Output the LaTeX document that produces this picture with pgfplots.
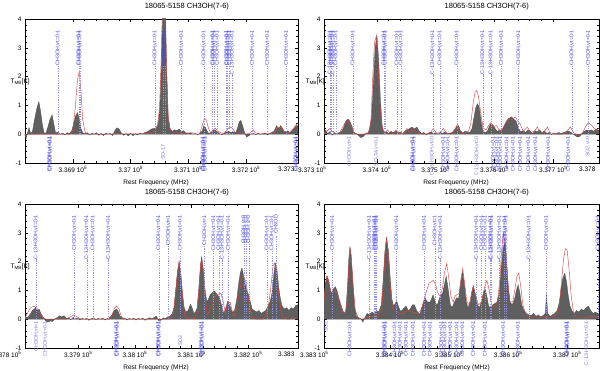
\documentclass[border=0pt]{standalone}
\usepackage{fontspec}
\setmainfont{Liberation Sans}
\usepackage{pgfplots}
\pgfplotsset{compat=1.18}
\usepackage{pgfplotstable}

\definecolor{lblue}{RGB}{70,70,220}
\definecolor{lpale}{RGB}{125,125,220}
\definecolor{lline}{RGB}{150,150,228}
\definecolor{specgray}{RGB}{95,95,95}
\definecolor{modred}{RGB}{215,70,70}
\newcommand\lblfont{\fontsize{5.3}{6}\selectfont}

\pgfplotsset{
  spec/.style={
    scale only axis, height=144pt, anchor=south west,
    ymin=-1, ymax=4, ytick={-1,0,1,2,3,4},
    scaled x ticks=false,
    tick align=inside, minor x tick num=4, minor y tick num=4,
    major tick length=3.5pt, minor tick length=1.8pt,
    every tick/.style={black, line width=0.35pt},
    axis line style={line width=0.5pt},
    ticklabel style={font=\fontsize{6.5}{7.5}\selectfont},
    /pgf/number format/assume math mode=true,
  },
  obs/.style={fill=specgray, draw=black!70, line width=0.3pt},
  mod/.style={draw=modred, line width=0.45pt, no markers},
  lin/.style={ycomb, color=lline, draw=lline, dash pattern=on 1.2pt off 1.2pt, line width=0.25pt, no markers},
  lab/.style={only marks, mark=*, mark size=0pt, mark options={draw=none, fill=none},
    point meta=explicit symbolic, nodes near coords,
    nodes near coords style={rotate=90, anchor=east, inner sep=0pt, font=\lblfont, text=#1}},
  lab/.default=lblue,
}
\tikzset{
  ttl/.style={anchor=base, yshift=10pt, font=\fontsize{7.5}{9}\selectfont},
  xl/.style={anchor=center, yshift=-20pt, font=\fontsize{6.5}{7.5}\selectfont},
  yl/.style={anchor=west, font=\fontsize{6.5}{8}\selectfont},
  edge/.style={anchor=north east, font=\fontsize{6.5}{7.5}\selectfont},
}

% ---------- line identifications ----------
\pgfplotstableread{
x h l
336874 2.4 CH3OH,vt=0-1
336910 2.4 CH3OH,vt=0-1
336912 2.4 CH3OH,vt=0-1
337042 2.4 CH3OH,vt=0-1
337057 2.4 CH3OH,vt=0-1
337059 2.4 CH3OH,vt=0-1
337088 2.4 CH3OH,vt=0-1
337127 2.4 CH3OH,vt=0-1
337142 2.4 CH3OH,vt=0-1
337144 2.4 CH3OH,vt=0-1
337150 2.4 CH3OH,vt=0-1
337166 2.4 CH3OH,vt=0-1
337168 2.4 CH3OH,vt=0-1
337171 2.4 CH3OH,vt=0-1
337176 2.1 C-13-H3OH,vt=0-1
337211 2.4 CH3OH,vt=0-1
337237 2.4 CH3OH,vt=0-1
337270 2.4 CH3OH,vt=0-1
}\topA
\pgfplotstableread{
x y l
336859 -0.06 CH3OH,vt=0-1
336861 -0.06 CH3OH,vt=0-1
337125 -0.06 CH3OH,vt=0-1
337127 -0.06 CH3OH,vt=0-1
337129 -0.06 CH3OH,vt=0-1
337286 -0.06 CH3OH,vt=0-1
337288 -0.06 CH3OH,vt=0-1
}\botA
\pgfplotstableread{
x y l
337056 -0.35 SO-17
}\palA

\pgfplotstableread{
x h l
337320 2.1 C-13-H3OH,vt=0-1
337322 2.4 CH3OH,vt=0-1
337325 2.1 C-13-H3OH,vt=0-1
337330 2.4 CH3OH,vt=0-1
337359 2.4 CH3OH,vt=0-1
337412 2.4 CH3OH,vt=0-1
337414 2.4 CH3OH,vt=0-1
337434 2.4 CH3OH,vt=0-1
337441 2.4 CH3OH,vt=0-1
337495 2.1 C-13-H3OH,vt=0-1
337507 2.4 CH3OH,vt=0-1
337536 2.4 CH3OH,vt=0-1
337580 2.1 C-13-H3OH,vt=0-1
337594 2.1 C-13-H3OH,vt=0-1
337612 2.4 CH3OH,vt=0-1
337641 2.4 CH3OH,vt=0-1
337732 2.4 CH3OH,vt=0-1
337760 2.4 CH3OH,vt=0-1
}\topB
\pgfplotstableread{
x y l
337461 -0.06 CH3OH,vt=0-1
337463 -0.06 CH3OH,vt=0-1
337513 -0.06 CH3OH,vt=0-1
337521 -0.06 CH3OH,vt=0-1
337536 -0.06 CH3OH,vt=0-1
337598 -0.06 CH3OH,vt=0-1
337604 -0.06 CH3OH,vt=0-1
337610 -0.06 CH3OH,vt=0-1
337621 -0.06 CH3OH,vt=0-1
337632 -0.06 CH3OH,vt=0-1
337644 -0.06 CH3OH,vt=0-1
337658 -0.06 CH3OH,vt=0-1
337670 -0.06 CH3OH,vt=0-1
337692 -0.06 CH3OH,vt=0-1
337726 -0.06 CH3OH,vt=0-1
}\botB
\pgfplotstableread{
x y l
337353 -0.06 CH3OH,vt=1
337399 -0.06 SO-34,v=0-1
337494 -0.06 C-13-H3OH,vt=0
337570 -0.06 C-13-H3OH,vt=0
337759 -0.06 SO2,v=0
}\palB

\pgfplotstableread{
x h l
337825 2.1 C-13-H3OH,vt=0-1
337893 2.4 CH3OH,vt=0-1
337915 2.1 C-13-H3OH,vt=0-1
337926 2.4 CH3OH,vt=0-1
337953 2.1 C-13-H3OH,vt=0-1
338042 2.4 CH3OH,vt=0-1
338059 2.6 CH3OH,vt=1
338080 2.4 CH3OH,vt=0-1
338123 2.6 CH3OH,vt=1
338139 2.4 CH3OH,vt=0-1
338148 2.4 CH3OH,vt=0-1
338154 2.1 C-13-H3OH,vt=0-1
338165 2.4 CH3OH,vt=0-1
338192 2.7 CH3OH,v=0
338196 2.7 CH3OH,v=0
338201 2.7 CH3OH,v=0
338233 2.4 CH3OH,vt=0-1
338242 2.4 CH3OH,vt=0-1
338249 2.9 CH3OD
}\topC
\pgfplotstableread{
x y l
337967 -0.06 CH3OH,vt=0-1
337969 -0.06 CH3OH,vt=0-1
338041 -0.06 CH3OH,vt=0-1
338043 -0.06 CH3OH,vt=0-1
338117 -0.06 CH3OH,vt=0-1
338119 -0.06 CH3OH,vt=0-1
}\botC
\pgfplotstableread{
x y l
337826 -0.06 CH3OH,vt=1
337842 -0.06 CH3OH,vt=0-1
338080 -0.55 SO2
}\palC

\pgfplotstableread{
x h l
338302 2.4 CH3OH,vt=0-1
338365 2.1 C-13-H3OH,vt=0-1
338373 2.4 CH3OH,vt=0-1
338375 2.4 CH3OH,vt=0-1
338377 2.4 CH3OH,vt=0-1
338411 2.4 CH3OH,vt=0-1
338458 2.4 CH3OH,vt=0-1
338476 2.6 CH3OH,vt=1
338485 2.1 C-13-H3OH,vt=0-1
338546 2.1 C-13-H3OH,vt=0-1
338555 2.4 CH3OH,vt=0-1
338561 2.4 CH3OH,vt=0-1
338570 2.1 C-13-H3OH,vt=0-1
338572 2.1 C-13-H3OH,vt=0-1
338585 2.1 C-13-H3OH,vt=0-1
338594 2.4 CH3OH,vt=0-1
338596 2.4 CH3OH,vt=0-1
338635 2.1 C-13-H3OH,vt=0-1
338665 2.4 CH3OH,vt=0-1
338752 2.4 CH3OH,vt=0-1
}\topD
\pgfplotstableread{
x y l
338332 -0.06 CH3OH,vt=0-1
338390 -0.06 CH3OH,vt=0-1
338392 -0.06 CH3OH,vt=0-1
338408 -0.06 CH3OH,vt=0-1
338417 -0.06 CH3OH,vt=0-1
338427 -0.06 CH3OH,vt=0-1
338439 -0.06 CH3OH,vt=0-1
338458 -0.06 CH3OH,vt=0-1
338468 -0.06 CH3OH,vt=0-1
338487 -0.06 CH3OH,vt=0-1
338493 -0.06 CH3OH,vt=0-1
338502 -0.06 CH3OH,vt=0-1
338513 -0.06 CH3OH,vt=0-1
338523 -0.06 CH3OH,vt=0-1
338541 -0.06 CH3OH,vt=0-1
338561 -0.06 CH3OH,vt=0-1
338592 -0.06 CH3OH,vt=0-1
338617 -0.06 CH3OH,vt=0-1
338699 -0.06 CH3OH,vt=0-1
338701 -0.06 CH3OH,vt=0-1
}\botD
\pgfplotstableread{
x y l
338291 -0.06 SO2
338733 -0.06 C-13-H3OH,vt=0-1
}\palD

\begin{document}
\begin{tikzpicture}
\useasboundingbox (0,0) rectangle (600pt,-371pt);

% ================= panel 1 =================
\begin{axis}[spec, width=273pt, at={(25pt,-163pt)}, xmin=336817, xmax=337290,
  xtick={336900,337000,337100,337200},
  xticklabels={3.369 10\textsuperscript{5},3.37 10\textsuperscript{5},3.371 10\textsuperscript{5},3.372 10\textsuperscript{5}},
  after end axis/.code={
    \node[ttl] at (rel axis cs:0.593,1) {18065-5158 CH3OH(7-6)};
    \node[xl] at (rel axis cs:0.48,0) {Rest Frequency (MHz)};
    \node[yl, xshift=-18pt] at (rel axis cs:0,0.5625) {T\textsubscript{MB}[K]};
    \node[edge] at (rel axis cs:1,0) {3.373};
  }]
\addplot[obs] table {
336817 -0.05
336819 -0.15
336821 0.02
336824 0.23
336827 0.02
336830 0.1
336833 0.45
336837 0.85
336841 1.13
336844 0.8
336847 0.35
336850 0.05
336853 0.03
336856 0.2
336860 0.5
336864 0.67
336867 0.35
336870 0.05
336874 0.07
336878 0.0
336882 0.04
336886 -0.02
336890 0.05
336894 0.03
336898 0.12
336901 0.35
336905 0.65
336908 0.75
336911 0.55
336914 0.2
336917 0.05
336921 0.02
336925 0.05
336929 -0.03
336933 0.04
336937 0.0
336941 0.05
336945 -0.04
336949 0.03
336953 -0.05
336957 0.04
336961 0.0
336965 0.03
336969 -0.05
336972 0.1
336976 0.22
336980 0.18
336984 0.04
336988 -0.04
336992 0.02
336996 -0.06
337000 0.03
337004 -0.05
337008 0.02
337012 -0.03
337016 0.04
337020 0.0
337024 0.05
337028 0.08
337032 0.12
337036 0.18
337040 0.2
337044 0.22
337048 0.35
337051 1.0
337054 2.8
337057 5.5
337060 5.0
337062 2.5
337065 0.6
337068 0.2
337072 0.1
337076 0.15
337080 0.12
337084 0.18
337088 0.1
337092 0.12
337096 0.04
337100 0.02
337104 0.05
337108 0.0
337112 0.03
337116 -0.02
337120 0.03
337124 0.12
337127 0.3
337130 0.22
337134 0.05
337138 0.03
337142 0.12
337146 0.15
337150 0.08
337154 0.02
337158 -0.02
337162 0.03
337166 0.08
337170 0.1
337174 0.06
337178 0.08
337182 0.05
337185 0.2
337188 0.42
337191 0.48
337194 0.3
337197 0.08
337201 -0.1
337205 -0.05
337209 0.02
337213 0.03
337217 -0.02
337221 0.03
337225 0.0
337229 0.02
337233 0.04
337237 -0.03
337241 0.02
337245 0.06
337249 0.12
337253 0.3
337256 0.18
337260 0.3
337264 0.15
337268 0.08
337272 0.12
337276 0.05
337280 0.12
337284 0.22
337287 0.3
337290 0.3
} \closedcycle;
\addplot[mod] table {
336817 0.0
336895 0.0
336900 0.15
336904 0.9
336908 1.9
336911 2.18
336914 1.5
336917 0.5
336921 0.08
336926 0.0
337036 0.02
337046 0.25
337050 0.9
337053 2.6
337056 5.2
337059 5.0
337062 2.4
337065 0.7
337068 0.2
337074 0.05
337120 0.04
337124 0.3
337128 0.55
337131 0.5
337135 0.2
337139 0.04
337143 0.15
337147 0.2
337151 0.1
337160 0.02
337166 0.12
337170 0.22
337174 0.25
337178 0.15
337182 0.04
337192 0.05
337200 0.0
337208 0.05
337212 0.15
337216 0.05
337225 0.0
337250 0.05
337254 0.25
337258 0.2
337262 0.25
337266 0.1
337274 0.05
337282 0.2
337290 0.4
};
\addplot[lin] table[x=x, y=h] {\topA};
\addplot[lab] table[x=x, y expr=3.62, meta=l] {\topA};
\addplot[lab] table[x=x, y=y, meta=l] {\botA};
\addplot[lab=lpale] table[x=x, y=y, meta=l] {\palA};
\end{axis}

% ================= panel 2 =================
\begin{axis}[spec, width=275pt, at={(324pt,-163pt)}, xmin=337310, xmax=337778,
  xtick={337400,337500,337600,337700},
  xticklabels={3.374 10\textsuperscript{5},3.375 10\textsuperscript{5},3.376 10\textsuperscript{5},3.377 10\textsuperscript{5}},
  after end axis/.code={
    \node[ttl] at (rel axis cs:0.592,1) {18065-5158 CH3OH(7-6)};
    \node[xl] at (rel axis cs:0.48,0) {Rest Frequency (MHz)};
    \node[yl, xshift=-22pt] at (rel axis cs:0,0.5625) {T\textsubscript{MB}[K]};
    \node[edge, xshift=6pt] at (rel axis cs:0,0) {3.373 10\textsuperscript{5}};
    \node[edge] at (rel axis cs:1,0) {3.378};
  }]
\addplot[obs] table {
337310 0.05
337313 0.15
337316 0.02
337320 0.08
337324 -0.03
337328 0.05
337332 0.0
337336 0.06
337340 0.1
337343 0.2
337346 0.4
337349 0.5
337352 0.52
337355 0.4
337358 0.25
337361 0.06
337365 0.02
337369 -0.05
337373 -0.12
337377 -0.08
337381 0.02
337385 0.05
337388 0.2
337391 0.6
337394 1.8
337397 3.0
337400 3.45
337403 2.6
337406 1.2
337409 0.3
337412 0.05
337416 0.08
337420 0.03
337424 0.1
337428 0.05
337432 0.12
337436 0.04
337440 0.08
337444 0.02
337448 0.1
337452 0.15
337456 0.2
337460 0.25
337464 0.18
337468 0.25
337472 0.1
337476 0.03
337480 0.06
337484 -0.02
337488 0.04
337492 0.08
337496 0.02
337500 0.05
337504 0.0
337508 0.06
337512 0.03
337516 0.08
337520 0.02
337524 0.04
337528 0.06
337532 0.15
337536 0.28
337539 0.3
337542 0.12
337546 0.04
337550 0.1
337554 0.08
337558 0.05
337562 0.2
337565 0.55
337568 0.9
337571 1.06
337574 0.95
337577 0.5
337580 0.15
337584 0.05
337588 0.1
337592 0.3
337595 0.38
337598 0.3
337601 0.2
337605 0.1
337609 0.15
337613 0.12
337617 0.3
337621 0.45
337625 0.55
337629 0.6
337633 0.52
337637 0.45
337641 0.2
337645 0.08
337649 0.12
337653 0.05
337657 0.15
337661 0.1
337665 0.02
337669 0.12
337673 0.08
337677 0.15
337681 0.05
337685 0.12
337689 0.03
337693 0.06
337697 -0.02
337701 0.04
337705 0.02
337709 0.06
337713 0.03
337717 0.05
337721 0.08
337725 0.12
337729 0.08
337733 0.02
337737 -0.04
337741 -0.1
337745 -0.08
337749 0.02
337753 0.1
337757 0.15
337761 0.12
337765 0.15
337769 0.1
337773 0.18
337778 0.12
} \closedcycle;
\addplot[mod] table {
337310 0.05
337315 0.1
337320 0.2
337325 0.08
337330 0.02
337336 0.05
337341 0.2
337346 0.4
337351 0.45
337356 0.3
337361 0.05
337368 0.0
337376 0.0
337386 0.05
337390 0.5
337393 2.0
337396 3.2
337399 3.4
337402 2.5
337405 1.0
337409 0.2
337413 0.02
337418 0.15
337422 0.05
337428 0.02
337433 0.15
337438 0.05
337445 0.0
337451 0.2
337456 0.05
337462 0.2
337467 0.05
337480 0.0
337491 0.05
337496 0.2
337501 0.05
337508 0.05
337513 0.2
337518 0.05
337526 0.0
337532 0.1
337536 0.3
337541 0.1
337550 0.0
337556 0.1
337560 0.4
337564 1.1
337567 1.45
337570 1.52
337573 1.3
337577 0.7
337581 0.2
337586 0.15
337593 0.4
337598 0.25
337604 0.3
337609 0.1
337614 0.2
337619 0.4
337624 0.55
337630 0.5
337636 0.6
337640 0.45
337644 0.35
337649 0.1
337656 0.25
337662 0.05
337668 0.1
337673 0.25
337678 0.05
337684 0.05
337690 0.25
337695 0.05
337705 0.0
337715 0.0
337722 0.05
337729 0.25
337735 0.05
337742 -0.05
337750 0.05
337755 0.25
337760 0.4
337766 0.3
337772 0.15
337778 0.2
};
\addplot[lin] table[x=x, y=h] {\topB};
\addplot[lab] table[x=x, y expr=3.62, meta=l] {\topB};
\addplot[lab] table[x=x, y=y, meta=l] {\botB};
\addplot[lab=lpale] table[x=x, y=y, meta=l] {\palB};
\end{axis}

% ================= panel 3 =================
\begin{axis}[spec, width=273pt, at={(25pt,-348pt)}, xmin=337806, xmax=338288,
  xtick={337900,338000,338100,338200},
  xticklabels={3.379 10\textsuperscript{5},3.38 10\textsuperscript{5},3.381 10\textsuperscript{5},3.382 10\textsuperscript{5}},
  after end axis/.code={
    \node[ttl] at (rel axis cs:0.593,1) {18065-5158 CH3OH(7-6)};
    \node[xl] at (rel axis cs:0.48,0) {Rest Frequency (MHz)};
    \node[yl, xshift=-18pt] at (rel axis cs:0,0.5625) {T\textsubscript{MB}[K]};
    \node[edge] at (rel axis cs:0,0) {3.378 10\textsuperscript{5}};
    \node[edge] at (rel axis cs:1,0) {3.383};
  }]
\addplot[obs] table {
337806 0.1
337810 0.05
337813 0.12
337816 0.2
337819 0.3
337822 0.35
337825 0.4
337828 0.3
337831 0.35
337834 0.2
337837 0.1
337840 0.02
337843 -0.08
337847 -0.1
337851 -0.06
337855 -0.08
337859 0.02
337863 0.05
337867 0.12
337871 0.08
337875 0.12
337879 0.03
337883 0.05
337887 -0.02
337891 0.06
337895 0.02
337899 0.04
337903 -0.03
337907 0.03
337911 0.0
337915 0.04
337919 -0.04
337923 0.02
337927 0.05
337931 -0.02
337935 0.03
337939 0.0
337943 0.04
337947 -0.03
337951 0.02
337955 0.05
337959 0.12
337962 0.25
337965 0.32
337968 0.35
337971 0.25
337974 0.1
337978 0.02
337982 0.04
337986 -0.03
337990 0.03
337994 0.0
337998 0.04
338002 -0.03
338006 0.03
338010 0.0
338014 0.04
338018 -0.04
338022 0.02
338026 0.05
338030 0.02
338034 0.06
338038 0.1
338042 -0.05
338046 -0.04
338050 0.05
338054 0.02
338058 0.08
338062 0.1
338066 0.2
338069 0.4
338072 1.0
338075 1.6
338078 2.0
338081 1.6
338084 0.9
338087 0.4
338090 0.25
338094 0.3
338098 0.52
338101 0.4
338104 0.2
338107 0.25
338110 0.4
338113 1.1
338116 1.9
338118 2.17
338121 1.7
338124 1.0
338127 0.6
338130 0.7
338133 0.85
338136 0.9
338139 0.98
338142 0.95
338145 0.85
338148 0.8
338151 0.65
338154 0.4
338157 0.2
338160 0.35
338164 0.63
338168 0.45
338172 0.22
338176 0.3
338180 0.7
338183 1.2
338186 1.6
338189 1.78
338192 1.5
338195 1.2
338198 0.95
338201 0.85
338204 0.6
338207 0.35
338211 0.3
338215 0.25
338219 0.3
338223 0.2
338227 0.25
338231 0.3
338235 0.45
338239 0.62
338242 0.9
338245 1.5
338248 1.95
338251 1.7
338254 1.1
338257 0.7
338260 0.45
338264 0.35
338268 0.4
338272 0.3
338276 0.4
338280 0.35
338284 0.48
338288 0.5
} \closedcycle;
\addplot[mod] table {
337806 0.05
337810 0.2
337814 0.35
337818 0.43
337822 0.44
337826 0.4
337830 0.3
337834 0.15
337838 0.05
337844 0.0
337880 0.0
337886 0.08
337892 0.15
337898 0.08
337905 0.0
337955 0.0
337960 0.15
337964 0.38
337968 0.46
337972 0.35
337976 0.1
337982 0.0
338062 0.0
338068 0.2
338072 0.9
338075 1.6
338078 2.0
338081 1.6
338084 0.8
338088 0.15
338093 0.02
338105 0.02
338110 0.3
338113 1.0
338116 1.9
338118 2.1
338121 1.6
338124 0.7
338128 0.15
338133 0.35
338138 0.6
338143 0.8
338148 0.88
338152 0.9
338156 0.6
338160 0.2
338164 0.55
338168 0.6
338171 0.35
338175 0.1
338180 0.4
338184 0.9
338188 1.35
338192 1.5
338196 1.3
338200 0.8
338204 0.3
338208 0.05
338214 0.0
338226 0.0
338232 0.15
338236 0.5
338240 1.1
338244 1.85
338247 1.95
338250 1.6
338254 0.9
338258 0.3
338262 0.05
338270 0.0
338280 0.02
338288 0.05
};
\addplot[lin] table[x=x, y=h] {\topC};
\addplot[lab] table[x=x, y expr=3.62, meta=l] {\topC};
\addplot[lab] table[x=x, y=y, meta=l] {\botC};
\addplot[lab=lpale] table[x=x, y=y, meta=l] {\palC};
\end{axis}

% ================= panel 4 =================
\begin{axis}[spec, width=275pt, at={(324pt,-348pt)}, xmin=338288, xmax=338754,
  xtick={338400,338500,338600,338700},
  xticklabels={3.384 10\textsuperscript{5},3.385 10\textsuperscript{5},3.386 10\textsuperscript{5},3.387 10\textsuperscript{5}},
  after end axis/.code={
    \node[ttl] at (rel axis cs:0.592,1) {18065-5158 CH3OH(7-6)};
    \node[xl] at (rel axis cs:0.484,0) {Rest Frequency (MHz)};
    \node[yl, xshift=-22pt] at (rel axis cs:0,0.5625) {T\textsubscript{MB}[K]};
    \node[edge, xshift=8pt] at (rel axis cs:0,0) {3.383 10\textsuperscript{5}};
  }]
\addplot[obs] table {
338288 0.6
338290 1.2
338293 1.5
338296 1.35
338299 1.0
338301 0.9
338304 1.05
338307 1.13
338310 1.0
338313 0.75
338316 0.55
338319 0.35
338322 0.2
338325 0.3
338328 1.2
338330 2.1
338332 2.5
338334 2.2
338337 1.3
338340 0.4
338343 0.1
338347 0.05
338351 0.0
338354 -0.1
338357 0.05
338361 0.2
338365 0.15
338369 0.25
338373 0.2
338377 0.3
338381 0.25
338385 0.5
338388 1.3
338391 2.3
338394 2.85
338397 2.4
338400 1.5
338403 0.7
338406 0.45
338409 0.55
338411 0.65
338414 0.45
338417 0.3
338420 0.3
338424 0.4
338427 0.45
338431 0.3
338434 0.35
338438 0.5
338441 0.5
338445 0.3
338448 0.2
338451 0.2
338455 0.5
338459 0.75
338463 0.6
338468 0.6
338473 0.85
338477 0.55
338480 0.5
338485 0.8
338489 0.9
338492 1.2
338495 1.5
338498 1.1
338502 0.5
338505 0.4
338509 0.6
338513 0.75
338516 0.7
338520 1.3
338523 1.65
338526 1.2
338529 0.6
338532 0.4
338536 0.6
338539 1.0
338541 1.17
338544 0.9
338548 0.5
338551 0.4
338555 0.6
338558 0.9
338561 1.05
338564 0.8
338567 0.45
338570 0.4
338574 0.5
338578 0.55
338581 0.6
338585 0.9
338588 1.7
338591 2.4
338594 2.64
338597 2.2
338600 1.2
338603 0.6
338607 0.5
338611 0.7
338614 1.0
338617 1.2
338620 0.9
338623 0.5
338627 0.3
338631 0.2
338635 0.15
338639 0.12
338643 0.2
338647 0.1
338651 0.15
338655 0.08
338659 0.12
338663 0.2
338665 0.9
338667 0.2
338671 0.1
338675 0.15
338679 0.2
338683 0.3
338687 0.6
338690 1.1
338693 1.45
338696 1.59
338699 1.3
338702 0.8
338705 0.45
338708 0.3
338712 0.2
338716 0.3
338720 0.25
338724 0.35
338728 0.3
338732 0.4
338736 0.45
338740 0.3
338744 0.2
338748 0.25
338751 0.2
338754 0.15
} \closedcycle;
\addplot[mod] table {
338288 0.6
338290 1.2
338293 1.5
338296 1.3
338300 0.9
338304 0.95
338307 1.0
338311 0.8
338315 0.5
338320 0.25
338324 0.2
338327 0.6
338330 1.8
338332 2.5
338334 2.2
338337 1.2
338341 0.3
338346 0.05
338352 0.0
338360 0.05
338370 0.1
338380 0.15
338386 0.4
338389 1.4
338392 2.5
338394 2.8
338397 2.3
338400 1.2
338404 0.4
338409 0.3
338415 0.2
338422 0.2
338430 0.3
338438 0.25
338446 0.2
338452 0.3
338457 0.6
338462 1.0
338466 1.25
338470 1.3
338473 1.35
338477 1.2
338481 0.9
338485 0.8
338489 1.1
338492 1.6
338496 1.93
338499 1.5
338503 0.8
338507 0.6
338510 0.8
338513 0.85
338517 0.9
338520 1.4
338523 1.75
338526 1.3
338530 0.6
338534 0.5
338538 0.9
338541 1.15
338545 0.8
338550 0.5
338555 0.6
338560 1.1
338564 1.35
338568 1.0
338572 0.5
338577 0.4
338582 0.6
338586 1.4
338589 2.4
338592 3.0
338595 2.6
338599 1.4
338603 0.6
338608 0.6
338612 1.1
338615 1.5
338618 1.6
338621 1.2
338625 0.5
338630 0.15
338640 0.05
338660 0.05
338680 0.1
338686 0.3
338690 1.2
338694 2.1
338697 2.45
338700 2.4
338703 1.8
338707 0.8
338711 0.2
338716 0.05
338730 0.05
338740 0.1
338754 0.1
};
\addplot[lin] table[x=x, y=h] {\topD};
\addplot[lab] table[x=x, y expr=3.62, meta=l] {\topD};
\addplot[lab] table[x=x, y=y, meta=l] {\botD};
\addplot[lab=lpale] table[x=x, y=y, meta=l] {\palD};
\end{axis}
\end{tikzpicture}
\end{document}
